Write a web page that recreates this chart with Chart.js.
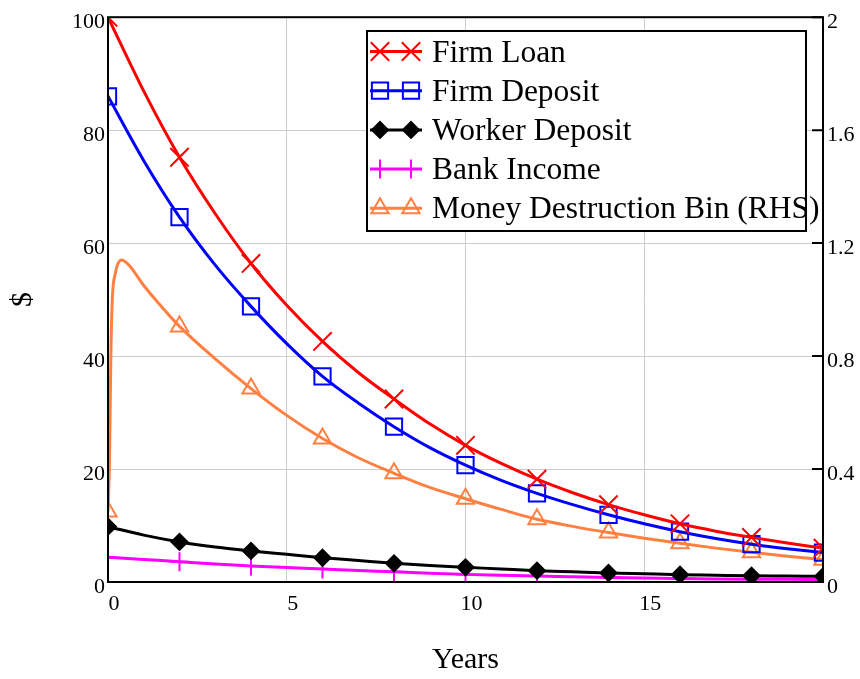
<!DOCTYPE html>
<html><head><meta charset="utf-8">
<script src="https://cdn.jsdelivr.net/npm/chart.js@4/dist/chart.umd.min.js"></script>
<style>html,body{margin:0;padding:0;background:#fff}</style>
</head><body>
<canvas id="c" width="860" height="679"></canvas>
<script>
// ---- data ----
const years = [0,1,2,3,4,5,6,7,8,9,10,11,12,13,14,15,16,17,18,19,20];
const firmLoan = [100, 86.9, 75.2, 65.2, 56.4, 49.0, 42.6, 37.1, 32.4, 28.0, 24.2, 21.0, 18.2, 15.8, 13.7, 11.9, 10.3, 9.0, 7.9, 6.9, 6.0];
const firmDeposit = [86.0, 74.6, 64.6, 56.1, 48.8, 42.2, 36.4, 31.7, 27.5, 23.8, 20.7, 18.0, 15.7, 13.7, 11.9, 10.3, 8.9, 7.7, 6.7, 5.9, 5.2];
const workerDeposit = [9.8, 8.3, 7.1, 6.2, 5.5, 4.9, 4.3, 3.8, 3.3, 2.9, 2.6, 2.3, 2.0, 1.8, 1.6, 1.45, 1.3, 1.2, 1.1, 1.05, 1.0];
const bankIncome = [4.4, 4.0, 3.6, 3.2, 2.85, 2.55, 2.3, 2.05, 1.8, 1.55, 1.35, 1.2, 1.05, 0.92, 0.8, 0.7, 0.62, 0.55, 0.5, 0.47, 0.45];
const mdbYears = [0, 0.04, 0.08, 0.12, 0.2, 0.38, 0.6, 1, 1.5, 2,3,4,5,6,7,8,9,10,11,12,13,14,15,16,17,18,19,20];
const moneyDestruction = [0.25, 0.42, 0.8, 1.0, 1.09, 1.14, 1.12, 1.05, 0.975, 0.905, 0.79, 0.685, 0.59, 0.508, 0.44, 0.385, 0.335, 0.295, 0.257, 0.222, 0.197, 0.175, 0.155, 0.137, 0.12, 0.105, 0.091, 0.079];
const seriesLabels = ['Firm Loan', 'Firm Deposit', 'Worker Deposit', 'Bank Income', 'Money Destruction Bin (RHS)'];
const xTitle = 'Years';
const yTitle = '$';
const xTickLabels = ['0', '5', '10', '15', ''];   // labels at 0,5,10,15,20 (last one not shown)
const xTicks = {min: 0, max: 20, step: 5};
const yTicks = {min: 0, max: 100, step: 20};
const y2Ticks = {min: 0, max: 2, step: 0.4};
const markerEvery = 2;

const FONT = "'Liberation Serif', 'Times New Roman', serif";
Chart.defaults.font.family = FONT;
Chart.defaults.color = '#000';

function pts(xs, ys) { return xs.map((x, i) => ({x: x, y: ys[i]})); }
function markerRadius(r) {
  return c => (c.raw && Number.isInteger(c.raw.x) && c.raw.x % markerEvery === 0) ? r : 0;
}
function mkDs(label, xs, ys, color, style, r, fill, axis) {
  return {
    label: label, data: pts(xs, ys), yAxisID: axis,
    borderColor: color, borderWidth: 3,
    pointStyle: style, pointRadius: markerRadius(r), pointHoverRadius: 0,
    pointBorderColor: color, pointBackgroundColor: fill, pointBorderWidth: 2,
    cubicInterpolationMode: 'monotone', fill: false,
    legendRadius: r
  };
}

const datasets = [
  mkDs(seriesLabels[0], years, firmLoan, '#ff0000', 'crossRot', 13, 'rgba(0,0,0,0)', 'y'),
  mkDs(seriesLabels[1], years, firmDeposit, '#0000ff', 'rect', 11.5, 'rgba(0,0,0,0)', 'y'),
  mkDs(seriesLabels[2], years, workerDeposit, '#000000', 'rectRot', 8, '#000000', 'y'),
  mkDs(seriesLabels[3], years, bankIncome, '#ff00ff', 'cross', 9.5, 'rgba(0,0,0,0)', 'y'),
  mkDs(seriesLabels[4], mdbYears, moneyDestruction, '#ff8040', 'triangle', 10, 'rgba(0,0,0,0)', 'y2')
];

function drawMarker(ctx, style, r, x, y) {
  if (Chart.helpers && Chart.helpers.drawPoint) {
    Chart.helpers.drawPoint(ctx, {pointStyle: style, radius: r, borderWidth: ctx.lineWidth, rotation: 0}, x, y);
    return;
  }
  ctx.beginPath();
  if (style === 'rect') { const s = r * Math.SQRT1_2; ctx.rect(x - s, y - s, 2 * s, 2 * s); }
  ctx.fill(); ctx.stroke();
}

const framePlugin = {
  id: 'frame',
  afterDatasetsDraw(chart) {
    const {ctx, chartArea: a} = chart;
    ctx.save();
    ctx.strokeStyle = '#000'; ctx.lineWidth = 2;
    ctx.strokeRect(a.left, a.top, a.right - a.left, a.bottom - a.top);
    const y2 = chart.scales.y2;
    ctx.beginPath();
    y2.ticks.forEach(t => {
      const py = y2.getPixelForValue(t.value);
      ctx.moveTo(a.right - 11, py); ctx.lineTo(a.right, py);
    });
    ctx.stroke();
    ctx.restore();
  },
  afterDraw(chart) {
    const {ctx} = chart;
    const box = {l: 367, t: 31, r: 806, b: 231};
    ctx.save();
    ctx.fillStyle = '#fff';
    ctx.fillRect(box.l, box.t, box.r - box.l, box.b - box.t);
    ctx.strokeStyle = '#000'; ctx.lineWidth = 2;
    ctx.strokeRect(box.l, box.t, box.r - box.l, box.b - box.t);
    chart.data.datasets.forEach((ds, i) => {
      const y = 51.5 + i * 39.2;
      ctx.strokeStyle = ds.borderColor; ctx.lineWidth = 3;
      ctx.beginPath(); ctx.moveTo(370, y); ctx.lineTo(422, y); ctx.stroke();
      ctx.lineWidth = 2; ctx.fillStyle = ds.pointBackgroundColor;
      drawMarker(ctx, ds.pointStyle, ds.legendRadius, 380, y);
      drawMarker(ctx, ds.pointStyle, ds.legendRadius, 411, y);
      ctx.fillStyle = '#000';
      ctx.font = "31.5px " + FONT;
      ctx.textAlign = 'left'; ctx.textBaseline = 'alphabetic';
      ctx.fillText(ds.label, 432, y + 10);
    });
    ctx.restore();
  }
};

new Chart(document.getElementById('c'), {
  type: 'line',
  data: {datasets: datasets},
  options: {
    responsive: false, animation: false, devicePixelRatio: 1,
    layout: {padding: {top: 14, left: 0, right: 0, bottom: 0}},
    plugins: {legend: {display: false}, tooltip: {enabled: false}},
    scales: {
      x: {
        type: 'linear', min: xTicks.min, max: xTicks.max,
        ticks: {stepSize: xTicks.step, font: {size: 22}, padding: 9, labelOffset: 6, maxRotation: 0, autoSkip: false,
          callback: (v, i) => xTickLabels[i] !== undefined ? xTickLabels[i] : String(v)},
        grid: {color: '#cccccc', lineWidth: 1, drawTicks: false},
        border: {display: false},
        title: {display: true, text: xTitle, font: {size: 30}, padding: {top: 0, bottom: 1}},
        afterFit: s => { s.height = 97; }
      },
      y: {
        position: 'left', min: yTicks.min, max: yTicks.max,
        ticks: {stepSize: yTicks.step, font: {size: 22}, padding: 3, labelOffset: 5},
        grid: {color: '#cccccc', lineWidth: 1, drawTicks: false},
        border: {display: false},
        title: {display: true, text: yTitle, font: {size: 30}, padding: {top: 5, bottom: 0}},
        afterFit: s => { s.width = 108; }
      },
      y2: {
        position: 'right', min: y2Ticks.min, max: y2Ticks.max,
        ticks: {stepSize: y2Ticks.step, font: {size: 22}, padding: 4, labelOffset: 5,
          callback: v => String(Math.round(v * 10) / 10)},
        grid: {drawOnChartArea: false, drawTicks: false},
        border: {display: false},
        afterFit: s => { s.width = 37; }
      }
    }
  },
  plugins: [framePlugin]
});
</script>
</body></html>
